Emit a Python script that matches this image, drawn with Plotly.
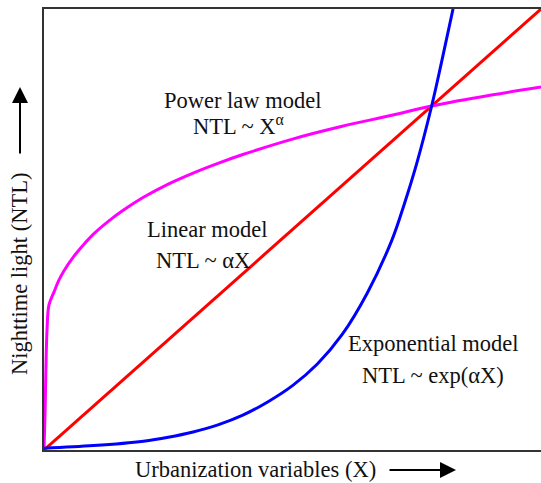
import plotly.graph_objects as go

# (x and y on a 0-100 scale)
linear_x = [0, 100]
linear_y = [0, 100]

power_x = [0, 0.2, 0.6, 1.0, 2, 3, 4, 6, 8, 10, 13, 16, 20, 25, 30, 35, 40, 50, 60, 70, 78, 90, 100]
power_y = [0, 7.9, 27.0, 32.9, 35.8, 38.5, 40.6, 43.9, 46.6, 49.0, 51.9, 54.4, 57.3, 60.3, 62.8, 65.0,
           67.0, 70.5, 73.4, 75.9, 78.0, 80.5, 82.3]

expo_x = [0, 10, 20, 25, 30, 35, 40, 45, 50, 55, 60, 65, 70, 72.5, 75, 78, 80, 82.3]
expo_y = [0.4, 1.0, 2.0, 2.9, 4.1, 5.7, 7.9, 10.9, 14.6, 19.5, 26.2, 35.5, 47.6, 55.8, 65.0, 78.0, 88.0, 100]

FONT = "Liberation Serif, Times New Roman, serif"
FS = 22.5

fig = go.Figure()
fig.add_trace(go.Scatter(x=linear_x, y=linear_y, mode="lines",
                         line=dict(color="#ff0000", width=3), hoverinfo="skip"))
fig.add_trace(go.Scatter(x=power_x, y=power_y, mode="lines",
                         line=dict(color="#ff00ff", width=3, shape="spline", smoothing=1.0),
                         hoverinfo="skip"))
fig.add_trace(go.Scatter(x=expo_x, y=expo_y, mode="lines",
                         line=dict(color="#0000ff", width=3, shape="spline", smoothing=1.0),
                         hoverinfo="skip"))

W, H = 541, 483
ML, MR, MT, MB = 44, 0, 9, 33
PW, PH = W - ML - MR, H - MT - MB


def px(xp):
    return (xp - ML) / PW


def py(yp):
    return (MT + PH - yp) / PH


texts = [
    ("Power law model", 242, 100),
    ("NTL ~ X<sup>α</sup>", 238, 125),
    ("Linear model", 207, 230),
    ("NTL ~ αX", 203, 260),
    ("Exponential model", 433, 343),
    ("NTL ~ exp(αX)", 433, 375),
    ("Urbanization variables (X)", 255, 470),
]
annotations = []
for t, xx, yy in texts:
    annotations.append(dict(text=t, x=px(xx), y=py(yy), xref="paper", yref="paper",
                            showarrow=False, xanchor="center", yanchor="middle",
                            font=dict(family=FONT, size=FS, color="#111")))
annotations.append(dict(text="Nighttime light (NTL)", x=px(20), y=py(274), xref="paper", yref="paper",
                        showarrow=False, textangle=-90, xanchor="center", yanchor="middle",
                        font=dict(family=FONT, size=FS, color="#111")))
# arrows
annotations.append(dict(text="", x=px(456), y=py(470), xref="paper", yref="paper",
                        ax=-68, ay=0, showarrow=True, arrowhead=2, arrowsize=1.6,
                        arrowwidth=2, arrowcolor="#000"))
annotations.append(dict(text="", x=px(20), y=py(87), xref="paper", yref="paper",
                        ax=0, ay=68, showarrow=True, arrowhead=2, arrowsize=1.6,
                        arrowwidth=2, arrowcolor="#000"))

fig.update_layout(
    width=W, height=H,
    margin=dict(l=ML, r=MR, t=MT, b=MB, pad=0),
    paper_bgcolor="white", plot_bgcolor="white",
    showlegend=False,
    annotations=annotations,
    xaxis=dict(range=[0, 100], showgrid=False, zeroline=False, showticklabels=False, ticks="",
               showline=True, linecolor="#333", linewidth=2, mirror=True),
    yaxis=dict(range=[0, 100], showgrid=False, zeroline=False, showticklabels=False, ticks="",
               showline=True, linecolor="#333", linewidth=2),
)

fig.write_html("out.html")
